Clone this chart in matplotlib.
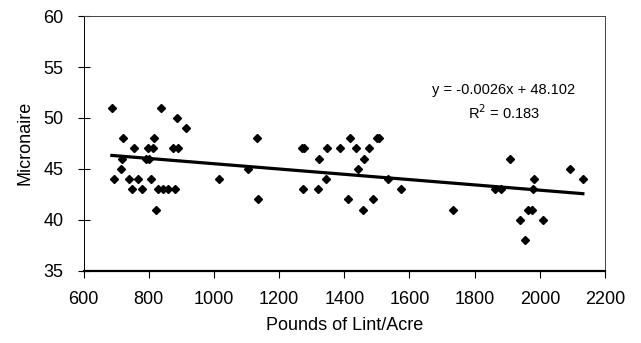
import numpy as np
import matplotlib
matplotlib.use("Agg")
import matplotlib.pyplot as plt

plt.rcParams['font.family'] = ['Liberation Sans', 'DejaVu Sans']

# lint yield (lb/acre) vs micronaire
lint = [687, 837, 886, 913, 722, 817, 1132, 756, 797, 814, 873, 890,
        719, 791, 802, 716, 693, 740, 767, 806, 1017, 1105,
        750, 779, 830, 845, 859, 881, 822, 1135,
        1270, 1275, 1346, 1388, 1419, 1436, 1475, 1500, 1505,
        1323, 1460, 1443, 1343, 1533, 1272, 1318, 1573, 1410, 1487, 1457,
        1733, 1861, 1881, 1908, 1981, 1979, 2092, 2132,
        1964, 1976, 1938, 2009, 1955]
micronaire = [51, 51, 50, 49, 48, 48, 48, 47, 47, 47, 47, 47,
              46, 46, 46, 45, 44, 44, 44, 44, 44, 45,
              43, 43, 43, 43, 43, 43, 41, 42,
              47, 47, 47, 47, 48, 47, 47, 48, 48,
              46, 46, 45, 44, 44, 43, 43, 43, 42, 42, 41,
              41, 43, 43, 46, 44, 43, 45, 44,
              41, 41, 40, 40, 38]

# trendline as printed on the chart
slope = -0.0026
intercept = 48.102
r2 = 0.183

fig = plt.figure(figsize=(6.41, 3.43), dpi=100)
ax = fig.add_axes([0.1303, 0.211, 0.8136, 0.742])

ax.plot(lint, micronaire, 'D', color='black', markersize=4.5, linestyle='none')

xfit = np.array([min(lint), max(lint)])
ax.plot(xfit, slope * xfit + intercept, color='black', linewidth=2.3)

ax.text(1889, 52.75, f"y = {slope}x + {intercept}", fontsize=10.5, ha='center', va='center')
ax.text(1889, 50.5, f"R$^2$ = {r2}", fontsize=10.5, ha='center', va='center')

ax.set_xlim(600, 2200)
ax.set_ylim(35, 60)
ax.set_xticks(np.arange(600, 2201, 200))
ax.set_yticks(np.arange(35, 61, 5))
for s in ['top', 'right', 'left']:
    ax.spines[s].set_linewidth(0.7)
    ax.spines[s].set_color('#444444')
ax.spines['left'].set_color('black')
ax.spines['bottom'].set_linewidth(1.6)
ax.tick_params(axis='y', direction='inout', length=9, width=0.8, labelsize=13, pad=10)
ax.tick_params(axis='x', direction='out', length=5, width=0.8, labelsize=13, pad=10)

ax.set_xlabel("Pounds of Lint/Acre", fontsize=13, labelpad=6)
ax.set_ylabel("Micronaire", fontsize=13, labelpad=7)

fig.savefig("out.png", dpi=100)
